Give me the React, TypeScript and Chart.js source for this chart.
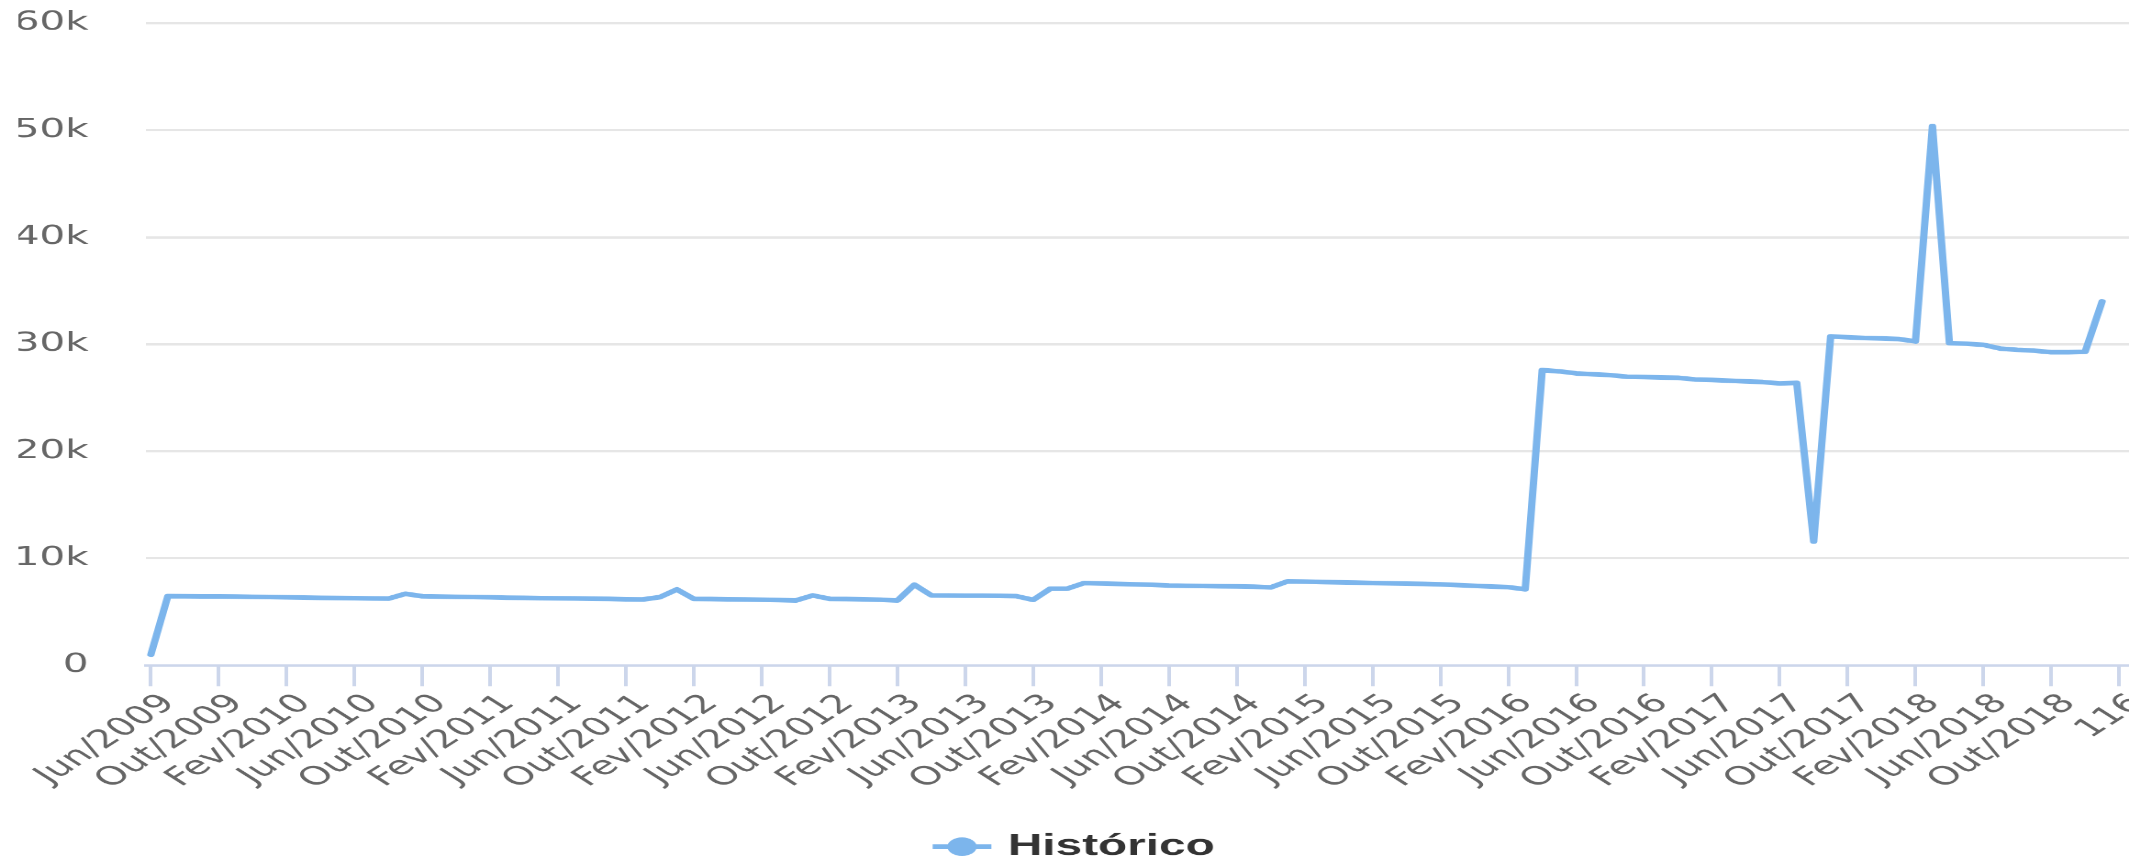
import { useEffect, useRef } from 'react';
import { Chart, registerables } from 'chart.js';

Chart.register(...registerables);

// ---- data -------------------------------------------------------------
const categories: string[] = [
  'Jun/2009', 'Jul/2009', 'Ago/2009', 'Set/2009', 'Out/2009', 'Nov/2009', 'Dez/2009',
  'Jan/2010', 'Fev/2010', 'Mar/2010', 'Abr/2010', 'Mai/2010', 'Jun/2010', 'Jul/2010', 'Ago/2010', 'Set/2010', 'Out/2010', 'Nov/2010', 'Dez/2010',
  'Jan/2011', 'Fev/2011', 'Mar/2011', 'Abr/2011', 'Mai/2011', 'Jun/2011', 'Jul/2011', 'Ago/2011', 'Set/2011', 'Out/2011', 'Nov/2011', 'Dez/2011',
  'Jan/2012', 'Fev/2012', 'Mar/2012', 'Abr/2012', 'Mai/2012', 'Jun/2012', 'Jul/2012', 'Ago/2012', 'Set/2012', 'Out/2012', 'Nov/2012', 'Dez/2012',
  'Jan/2013', 'Fev/2013', 'Mar/2013', 'Abr/2013', 'Mai/2013', 'Jun/2013', 'Jul/2013', 'Ago/2013', 'Set/2013', 'Out/2013', 'Nov/2013', 'Dez/2013',
  'Jan/2014', 'Fev/2014', 'Mar/2014', 'Abr/2014', 'Mai/2014', 'Jun/2014', 'Jul/2014', 'Ago/2014', 'Set/2014', 'Out/2014', 'Nov/2014', 'Dez/2014',
  'Jan/2015', 'Fev/2015', 'Mar/2015', 'Abr/2015', 'Mai/2015', 'Jun/2015', 'Jul/2015', 'Ago/2015', 'Set/2015', 'Out/2015', 'Nov/2015', 'Dez/2015',
  'Jan/2016', 'Fev/2016', 'Mar/2016', 'Abr/2016', 'Mai/2016', 'Jun/2016', 'Jul/2016', 'Ago/2016', 'Set/2016', 'Out/2016', 'Nov/2016', 'Dez/2016',
  'Jan/2017', 'Fev/2017', 'Mar/2017', 'Abr/2017', 'Mai/2017', 'Jun/2017', 'Jul/2017', 'Ago/2017', 'Set/2017', 'Out/2017', 'Nov/2017', 'Dez/2017',
  'Jan/2018', 'Fev/2018', 'Mar/2018', 'Abr/2018', 'Mai/2018', 'Jun/2018', 'Jul/2018', 'Ago/2018', 'Set/2018', 'Out/2018', 'Nov/2018', 'Dez/2018',
  'Jan/2019',
];

const historico: number[] = [
  1000, 6460, 6450, 6440, 6430, 6420, 6400, 6380, 6350, 6330,
  6300, 6290, 6270, 6250, 6230, 6680, 6450, 6420, 6400, 6380,
  6350, 6320, 6300, 6280, 6260, 6240, 6220, 6200, 6170, 6150,
  6370, 7090, 6210, 6190, 6170, 6150, 6120, 6100, 6050, 6530,
  6210, 6190, 6170, 6130, 6050, 7530, 6530, 6520, 6510, 6500,
  6490, 6460, 6110, 7150, 7150, 7690, 7650, 7600, 7560, 7520,
  7450, 7430, 7410, 7390, 7370, 7350, 7280, 7850, 7820, 7780,
  7750, 7720, 7690, 7660, 7630, 7600, 7560, 7500, 7430, 7360,
  7300, 7100, 27590, 27470, 27280, 27200, 27120, 26960, 26930, 26900,
  26870, 26710, 26660, 26600, 26530, 26470, 26340, 26400, 11560, 30740,
  30650, 30580, 30550, 30490, 30270, 50400, 30110, 30050, 29950, 29600,
  29480, 29400, 29260, 29250, 29300, 34000,
];

// category positions that carry a tick label (index 116 has no name -> shows "116")
const xTickValues: number[] = [
  0, 4, 8, 12, 16, 20, 24, 28, 32, 36, 40, 44, 48, 52, 56, 60,
  64, 68, 72, 76, 80, 84, 88, 92, 96, 100, 104, 108, 112, 116,
];

const yTickValues: number[] = [0, 10000, 20000, 30000, 40000, 50000, 60000];

const seriesName = 'Histórico';

// ---- styling ---------------------------------------------------------
const LINE = '#7cb5ec';
const AXIS = '#ccd6eb';
const GRID = '#e6e6e6';
const LABEL = '#666666';

// logical drawing size, stretched by CSS like the reference
const LOGICAL_W = 580;
const LOGICAL_H = 381;
const SX = 2129 / 580;
const SY = 859 / 370;

const legendSymbol = {
  id: 'legendSymbol',
  afterDraw(chart: any) {
    const lg = chart.legend;
    if (!lg || !lg.legendHitBoxes || !lg.legendHitBoxes.length) return;
    const hb = lg.legendHitBoxes[0];
    const ctx = chart.ctx;
    const cy = hb.top + hb.height / 2;
    ctx.save();
    ctx.strokeStyle = LINE;
    ctx.lineWidth = 2;
    ctx.beginPath();
    ctx.moveTo(hb.left, cy);
    ctx.lineTo(hb.left + 16, cy);
    ctx.stroke();
    ctx.fillStyle = LINE;
    ctx.beginPath();
    ctx.arc(hb.left + 8, cy, 4, 0, Math.PI * 2);
    ctx.fill();
    ctx.restore();
  },
};

export default function App() {
  const ref = useRef<HTMLCanvasElement>(null);

  useEffect(() => {
    const canvas = ref.current;
    if (!canvas) return;
    const tickFont = { family: '"DejaVu Sans", sans-serif', size: 11 };
    const chart = new Chart(canvas, {
      type: 'line',
      data: {
        datasets: [
          {
            label: seriesName,
            data: historico.map((v, i) => ({ x: i, y: v })),
            borderColor: LINE,
            backgroundColor: LINE,
            borderWidth: 2,
            pointRadius: 0,
            pointHoverRadius: 0,
            tension: 0,
            fill: false,
            borderJoinStyle: 'round',
            borderCapStyle: 'round',
          },
        ],
      },
      options: {
        responsive: false,
        animation: false,
        devicePixelRatio: 4,
        events: [],
        layout: { padding: { top: 10, left: 5, right: 0, bottom: 0 } },
        plugins: {
          tooltip: { enabled: false },
          legend: {
            position: 'bottom',
            labels: {
              boxWidth: 14,
              boxHeight: 8,
              padding: 10,
              color: '#333333',
              font: { family: '"Liberation Sans", Arial, sans-serif', size: 13, weight: 'bold' },
              generateLabels: () => [
                {
                  text: seriesName,
                  fillStyle: 'rgba(0,0,0,0)',
                  strokeStyle: 'rgba(0,0,0,0)',
                  lineWidth: 0,
                  hidden: false,
                  datasetIndex: 0,
                  fontColor: '#333333',
                } as any,
              ],
            },
          },
        },
        scales: {
          x: {
            type: 'linear',
            position: 'bottom',
            bounds: 'data',
            min: -0.281,
            max: 116.585,
            afterBuildTicks: (s: any) => {
              s.ticks = xTickValues.map((v) => ({ value: v }));
            },
            afterFit: (s: any) => {
              s.height = 61.6;
              s.paddingLeft = 0;
              s.paddingRight = 0;
              s.paddingTop = 0;
              s.paddingBottom = 0;
            },
            grid: {
              drawOnChartArea: false,
              drawTicks: true,
              tickLength: 9,
              color: AXIS,
              lineWidth: 1,
            },
            border: { display: true, color: AXIS, width: 1 },
            ticks: {
              autoSkip: false,
              minRotation: 45,
              maxRotation: 45,
              padding: 1,
              labelOffset: 5,
              color: LABEL,
              font: tickFont,
              callback: (v: any) => categories[v as number] ?? String(v),
            },
          },
          y: {
            min: 0,
            max: 60000,
            afterBuildTicks: (s: any) => {
              s.ticks = yTickValues.map((v) => ({ value: v }));
            },
            afterFit: (s: any) => {
              s.width = 34.8;
              s.paddingTop = 0;
              s.paddingBottom = 0;
              s.paddingLeft = 0;
              s.paddingRight = 0;
            },
            grid: {
              drawTicks: false,
              lineWidth: 1,
              color: (c: any) => (c.tick && c.tick.value === 0 ? AXIS : GRID),
            },
            border: { display: false },
            ticks: {
              padding: 15.7,
              color: LABEL,
              font: tickFont,
              callback: (v: any) => (v === 0 ? '0' : `${(v as number) / 1000}k`),
            },
          },
        },
      },
      plugins: [legendSymbol],
    } as any);
    return () => chart.destroy();
  }, []);

  return (
    <div
      style={{
        position: 'fixed',
        left: 0,
        top: 0,
        width: 2129,
        height: 859,
        overflow: 'hidden',
        background: '#ffffff',
      }}
    >
      <canvas
        ref={ref}
        width={LOGICAL_W}
        height={LOGICAL_H}
        style={{ width: `${LOGICAL_W * SX}px`, height: `${LOGICAL_H * SY}px` }}
      />
    </div>
  );
}
